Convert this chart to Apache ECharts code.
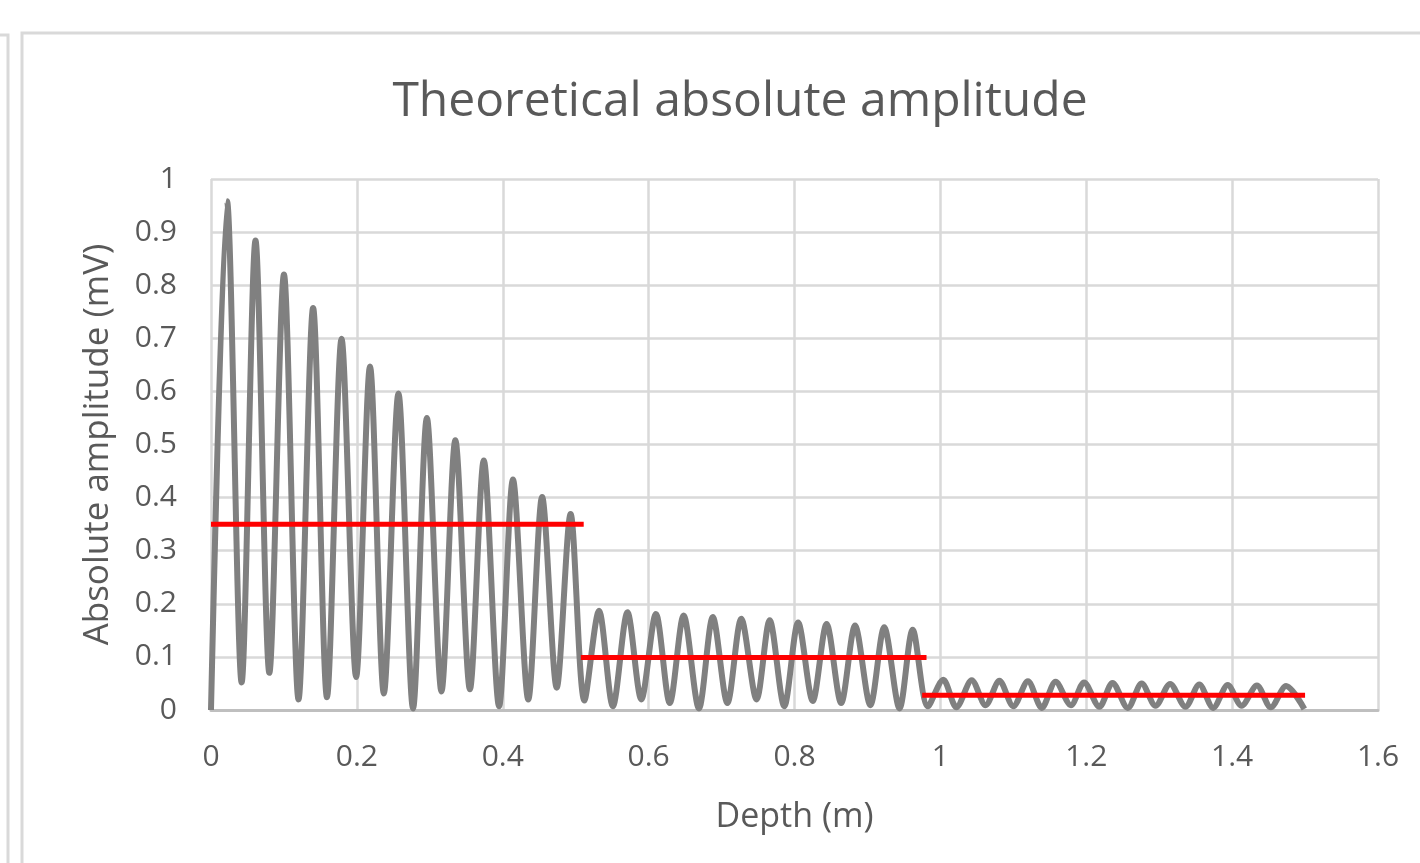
<!DOCTYPE html>
<html>
<head>
<meta charset="utf-8">
<script src="https://cdn.jsdelivr.net/npm/echarts@6/dist/echarts.min.js"></script>
<style>
  html, body { margin: 0; padding: 0; background: #ffffff; }
  #chart { width: 1420px; height: 863px; }
</style>
</head>
<body>
<div id="chart"></div>
<script>
// ---- Data ----
const titleText = 'Theoretical absolute amplitude';
const xAxisName = 'Depth (m)';
const yAxisName = 'Absolute amplitude (mV)';

// Gray curve: depth (m) of successive troughs / peaks
const depth = [
  0.000, 0.022, 0.042, 0.061, 0.080, 0.100, 0.120, 0.140, 0.159, 0.179,
  0.199, 0.218, 0.237, 0.257, 0.277, 0.296, 0.316, 0.335, 0.355, 0.374,
  0.395, 0.414, 0.435, 0.454, 0.474, 0.493, 0.512,
  0.532, 0.551, 0.571, 0.590, 0.610, 0.629, 0.648, 0.669, 0.688, 0.708,
  0.727, 0.748, 0.766, 0.786, 0.805, 0.825, 0.844, 0.864, 0.883, 0.904,
  0.923, 0.944, 0.962, 0.983,
  1.004, 1.022, 1.043, 1.062, 1.081, 1.100, 1.120, 1.139, 1.158, 1.179,
  1.197, 1.218, 1.236, 1.257, 1.276, 1.295, 1.315, 1.336, 1.355, 1.374,
  1.394, 1.413, 1.434, 1.453, 1.474, 1.499
];
// Gray curve: absolute amplitude (mV) at those depths
const amplitude = [
  0.000, 0.958, 0.052, 0.884, 0.070, 0.820, 0.020, 0.757, 0.024, 0.699,
  0.062, 0.647, 0.031, 0.596, 0.003, 0.550, 0.035, 0.508, 0.039, 0.470,
  0.007, 0.434, 0.020, 0.401, 0.042, 0.369, 0.018,
  0.187, 0.007, 0.184, 0.020, 0.181, 0.013, 0.178, 0.003, 0.175, 0.013,
  0.172, 0.020, 0.169, 0.007, 0.165, 0.017, 0.162, 0.013, 0.159, 0.009,
  0.156, 0.003, 0.151, 0.007,
  0.057, 0.005, 0.056, 0.009, 0.055, 0.007, 0.054, 0.004, 0.053, 0.009,
  0.052, 0.006, 0.051, 0.004, 0.050, 0.008, 0.049, 0.006, 0.048, 0.004,
  0.047, 0.008, 0.046, 0.005, 0.045, 0.002
];

// Red level lines (mean amplitude per layer)
const levelValue = [0.35, 0.099, 0.028];
const levelStart = [0.000, 0.507, 0.975];
const levelEnd   = [0.511, 0.981, 1.500];

// Axis ticks
const xMin = 0, xMax = 1.6, xStep = 0.2;
const yMin = 0, yMax = 1, yStep = 0.1;

// ---- Build chart ----
const chart = echarts.init(document.getElementById('chart'), null, { renderer: 'canvas' });

const curve = depth.map((d, i) => [d, amplitude[i]]);
const levelSeries = levelValue.map((v, i) => ({
  type: 'line',
  name: 'level' + (i + 1),
  data: [[levelStart[i], v], [levelEnd[i], v]],
  showSymbol: false,
  silent: true,
  z: 5,
  lineStyle: { color: '#ff0000', width: 5, cap: 'butt' }
}));

const textColor = '#595959';
const gridColor = '#d9d9d9';

chart.setOption({
  animation: false,
  backgroundColor: '#ffffff',
  title: {
    text: titleText,
    left: 735,
    top: 73,
    textAlign: 'center',
    textStyle: { fontFamily: 'Open Sans', fontWeight: 'normal', fontSize: 48, color: textColor }
  },
  grid: { left: 211, right: 42, top: 179, bottom: 153, containLabel: false },
  xAxis: {
    type: 'value',
    min: xMin, max: xMax, interval: xStep,
    name: xAxisName,
    nameLocation: 'middle',
    nameGap: 90,
    nameTextStyle: { fontFamily: 'Open Sans', fontSize: 34, color: textColor },
    axisLine: { show: true, lineStyle: { color: '#bfbfbf', width: 3 } },
    axisTick: { show: false },
    axisLabel: { margin: 32, fontFamily: 'Open Sans', fontSize: 30, color: textColor },
    splitLine: { show: true, lineStyle: { color: gridColor, width: 2.5 } }
  },
  yAxis: {
    type: 'value',
    min: yMin, max: yMax, interval: yStep,
    name: yAxisName,
    nameLocation: 'middle',
    nameGap: 95,
    nameRotate: 90,
    nameTextStyle: { fontFamily: 'Open Sans', fontSize: 35, color: textColor },
    axisLine: { show: false },
    axisTick: { show: false },
    axisLabel: { margin: 34, fontFamily: 'Open Sans', fontSize: 30, color: textColor },
    splitLine: { show: true, lineStyle: { color: gridColor, width: 2.5 } }
  },
  graphic: [
    { type: 'rect', shape: { x: 22, y: 33, width: 1440, height: 900 },
      style: { fill: null, stroke: '#d9d9d9', lineWidth: 3 }, silent: true, z: -10 },
    { type: 'polyline', shape: { points: [[-5, 35], [8, 35], [8, 900]] },
      style: { fill: null, stroke: '#d9d9d9', lineWidth: 3 }, silent: true, z: -10 }
  ],
  series: [
    {
      type: 'line',
      name: 'amplitude',
      data: curve,
      smooth: 0.3,
      showSymbol: false,
      silent: true,
      z: 3,
      lineStyle: { color: '#808080', width: 6, join: 'round' }
    }
  ].concat(levelSeries)
});
</script>
</body>
</html>
